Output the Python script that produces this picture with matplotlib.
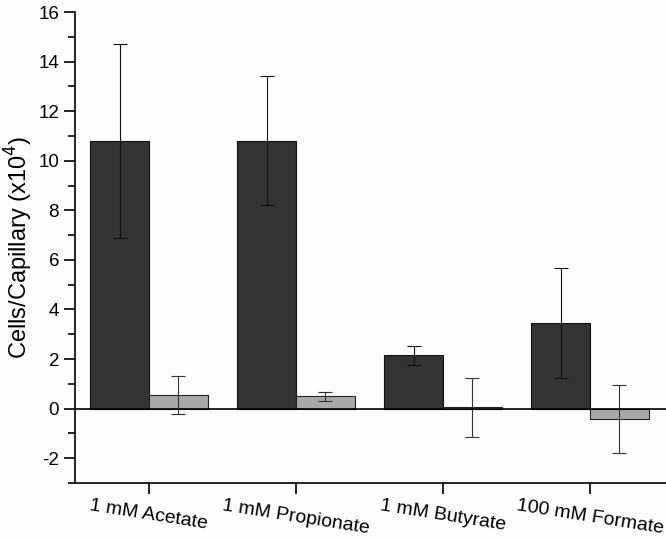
import matplotlib
matplotlib.use("Agg")
import matplotlib.pyplot as plt
import numpy as np
from matplotlib.ticker import MultipleLocator

plt.rcParams['font.family'] = ['Liberation Sans', 'DejaVu Sans']
plt.rcParams['axes.unicode_minus'] = False

categories = ["1 mM Acetate", "1 mM Propionate", "1 mM Butyrate", "100 mM Formate"]
dark_values = [10.8, 10.8, 2.15, 3.45]
dark_errors = [3.9, 2.6, 0.37, 2.23]
light_values = [0.55, 0.5, 0.05, -0.42]
light_errors = [0.75, 0.18, 1.18, 1.37]

fig = plt.figure(figsize=(6.66, 5.39), dpi=100)
fig.patch.set_facecolor('#fdfdfd')
ax = fig.add_axes([0.1126, 0.1039, 0.8874, 0.8738])
ax.set_facecolor('#fdfdfd')

x = np.arange(len(categories))
w = 0.4
ax.bar(x - w/2, dark_values, w, color='#333333', edgecolor='#111111', linewidth=0.8, zorder=2)
ax.bar(x + w/2, light_values, w, color='#a9a9a9', edgecolor='#222222', linewidth=0.8, zorder=2)
ax.errorbar(x - w/2, dark_values, yerr=dark_errors, fmt='none', ecolor='#111111',
            elinewidth=0.8, capsize=5, capthick=0.8, zorder=3)
ax.errorbar(x + w/2, light_values, yerr=light_errors, fmt='none', ecolor='#333333',
            elinewidth=0.8, capsize=5, capthick=0.8, zorder=3)
ax.axhline(0, color='black', linewidth=1.2, zorder=4)

ax.set_xlim(-0.503, 3.517)
ax.set_ylim(-3, 16)
ax.yaxis.set_major_locator(MultipleLocator(2))
ax.yaxis.set_minor_locator(MultipleLocator(1))
ax.set_xticks(x)
ax.set_xticklabels(categories, rotation=-9, ha='center', fontsize=14,
                   rotation_mode='default')
ax.tick_params(axis='y', which='major', direction='out', length=8, width=1.2, labelsize=13.5)
ax.tick_params(axis='y', which='minor', direction='out', length=5, width=1.2)
ax.tick_params(axis='x', which='major', direction='out', length=8, width=1.2, pad=2)
for s in ['top', 'right']:
    ax.spines[s].set_visible(False)
for s in ['left', 'bottom']:
    ax.spines[s].set_linewidth(1.2)
ax.set_ylabel('Cells/Capillary (x10$^4$)', fontsize=17, labelpad=2)

fig.savefig('out.png', dpi=100, facecolor=fig.get_facecolor())
